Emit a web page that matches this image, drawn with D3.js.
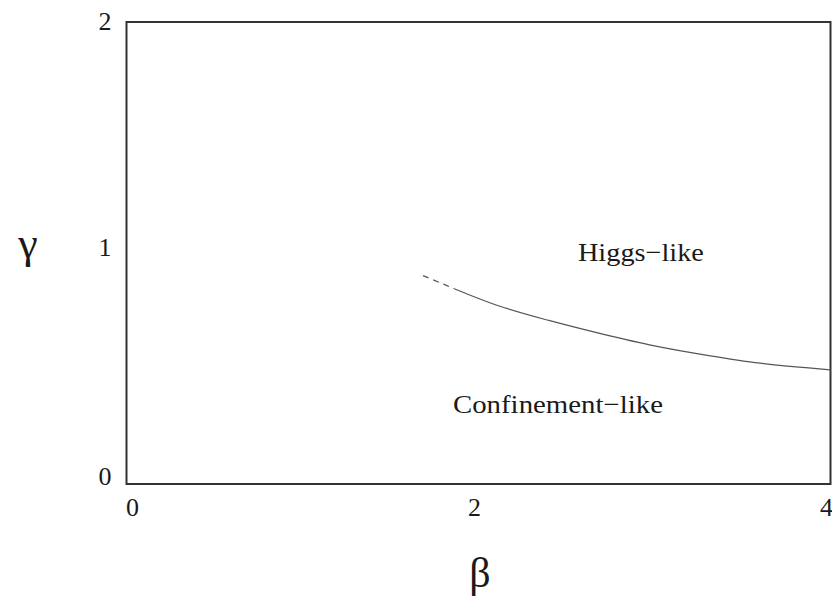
<!DOCTYPE html>
<html>
<head>
<meta charset="utf-8">
<script src="https://cdn.jsdelivr.net/npm/d3@7"></script>
<style>
  html, body { margin: 0; padding: 0; background: #fff; }
  svg text { font-family: "Times New Roman", "Liberation Serif", Times, serif; fill: #1a1a1a; }
</style>
</head>
<body>
<svg id="chart" width="832" height="597"></svg>
<script>
// Phase boundary in the (beta, gamma) plane
const xTicks = [0, 2, 4];
const yTicks = [0, 1, 2];
// metastable (dashed) part of the transition line
const dashedBeta  = [1.685, 1.78, 1.866];
const dashedGamma = [0.902, 0.872, 0.844];
// stable (solid) part of the transition line
const solidBeta  = [1.866, 2.1, 2.4, 2.7, 3.0, 3.3, 3.6, 4.0];
const solidGamma = [0.844, 0.775, 0.708, 0.650, 0.598, 0.557, 0.523, 0.494];
const regionLabels = ["Higgs\u2212like", "Confinement\u2212like"];
const regionBeta  = [2.565, 1.855];
const regionGamma = [0.965, 0.307];

const svg = d3.select("#chart");
const x = d3.scaleLinear().domain([0, 4]).range([126.5, 830.5]);
const y = d3.scaleLinear().domain([0, 2]).range([484, 22]);

// frame
svg.append("rect")
  .attr("x", x(0)).attr("y", y(2))
  .attr("width", x(4) - x(0)).attr("height", y(0) - y(2))
  .attr("fill", "none").attr("stroke", "#333").attr("stroke-width", 2);

// tick labels
svg.selectAll(".xt").data(xTicks).enter().append("text")
  .attr("x", d => x(d) + (d === 0 ? 6 : -4))
  .attr("y", y(0) + 32)
  .attr("text-anchor", "middle")
  .attr("font-size", 26)
  .text(d => d);
svg.selectAll(".yt").data(yTicks).enter().append("text")
  .attr("x", x(0) - 15)
  .attr("y", d => y(d) + (d === 2 ? 8 : d === 1 ? 3 : 1))
  .attr("text-anchor", "end")
  .attr("font-size", 26)
  .text(d => d);

// axis titles
svg.append("text").attr("x", 28).attr("y", 258)
  .attr("text-anchor", "middle").attr("font-size", 44).text("\u03b3");
svg.append("text").attr("x", 480).attr("y", 587)
  .attr("text-anchor", "middle").attr("font-size", 42).text("\u03b2");

// transition line
const line = d3.line().x(d => x(d[0])).y(d => y(d[1])).curve(d3.curveCatmullRom);
svg.append("path")
  .datum(dashedBeta.map((b, i) => [b, dashedGamma[i]]))
  .attr("d", line).attr("fill", "none")
  .attr("stroke", "#555").attr("stroke-width", 1.2)
  .attr("stroke-dasharray", "6,5");
svg.append("path")
  .datum(solidBeta.map((b, i) => [b, solidGamma[i]]))
  .attr("d", line).attr("fill", "none")
  .attr("stroke", "#555").attr("stroke-width", 1.2);

// region labels
const labelWidths = [126, 210];
svg.selectAll(".rl").data(regionLabels).enter().append("text")
  .attr("x", (d, i) => x(regionBeta[i]))
  .attr("y", (d, i) => y(regionGamma[i]))
  .attr("text-anchor", "start")
  .attr("font-size", 26)
  .attr("textLength", (d, i) => labelWidths[i])
  .attr("lengthAdjust", "spacingAndGlyphs")
  .text(d => d);
</script>
</body>
</html>
